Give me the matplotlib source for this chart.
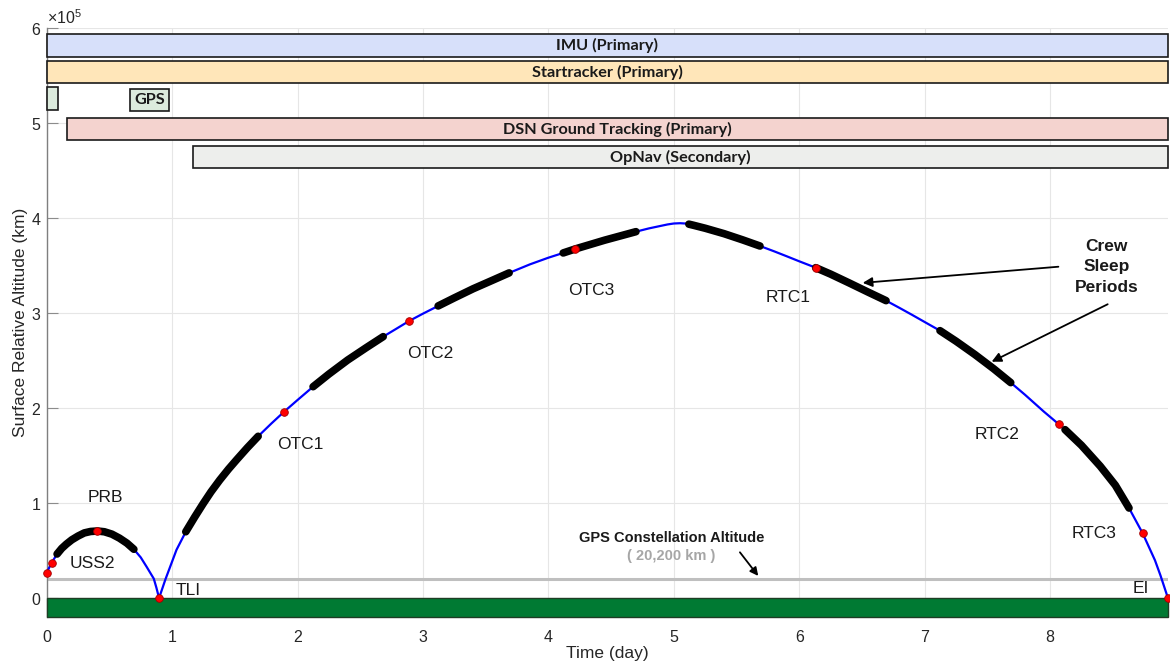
import matplotlib
matplotlib.use("Agg")
import matplotlib.pyplot as plt
import numpy as np
from matplotlib.ticker import ScalarFormatter

plt.rcParams["font.family"] = ["Liberation Sans", "DejaVu Sans"]
plt.rcParams["mathtext.fontset"] = "custom"
plt.rcParams["mathtext.rm"] = "Liberation Sans"
plt.rcParams["mathtext.it"] = "Liberation Sans:italic"

# Trajectory: mission elapsed time (day) vs. altitude above Earth's surface (km)
mission_day = [0.000, 0.040, 0.083, 0.120, 0.157, 0.200, 0.250, 0.300, 0.350,
               0.405, 0.460, 0.520, 0.580, 0.640, 0.695, 0.750, 0.796, 0.854,
               0.875, 0.896, 0.947, 1.035, 1.109, 1.180, 1.247, 1.310, 1.380,
               1.450, 1.513, 1.600, 1.686, 1.790, 1.893, 2.000, 2.124, 2.250,
               2.400, 2.550, 2.683, 2.790, 2.890, 3.000, 3.121, 3.250, 3.400,
               3.550, 3.687, 3.853, 4.000, 4.118, 4.214, 4.450, 4.698, 4.800,
               4.889, 4.950, 5.000, 5.050, 5.090, 5.120, 5.155, 5.250, 5.400,
               5.550, 5.687, 5.800, 5.900, 6.000, 6.131, 6.250, 6.400, 6.550,
               6.692, 6.800, 6.900, 7.000, 7.122, 7.250, 7.400, 7.550, 7.686,
               7.800, 7.950, 8.071, 8.119, 8.250, 8.400, 8.520, 8.629, 8.738,
               8.836, 8.880, 8.940]
altitude_km = [27000, 37500, 46600, 52500, 57000, 61500, 65500, 68800, 70300,
               70800, 70000, 67500, 63300, 58000, 51600, 43000, 33300, 20600,
               11000, 200, 20000, 51000, 70000, 85500, 99500, 112000, 124500,
               136000, 145600, 158500, 170500, 183800, 196400, 208700, 222700, 236000,
               250800, 264000, 275400, 283900, 291900, 299600, 307700, 316200, 325800,
               334500, 342500, 351500, 358500, 363500, 367700, 377000, 385900, 389300,
               391800, 393500, 394500, 394800, 394500, 393800, 392700, 389500, 383800,
               377200, 370800, 365200, 360000, 354700, 348000, 341200, 331800, 322200,
               313300, 305600, 298300, 290800, 281700, 270600, 256600, 241600, 227000,
               214200, 196500, 183000, 177500, 161000, 139000, 119000, 95000, 68400,
               40000, 24000, 0]

# Crew sleep periods (start day, end day)
sleep_start = [0.083, 1.109, 2.124, 3.121, 4.118, 5.120, 6.131, 7.122, 8.119]
sleep_end = [0.695, 1.686, 2.683, 3.687, 4.698, 5.687, 6.692, 7.686, 8.629]

# Mission events
event_day = [0.000, 0.040, 0.405, 0.896, 1.893, 2.890, 4.214, 6.131, 8.071, 8.738, 8.940]
event_alt = [27000, 37500, 70800, 200, 196400, 291900, 367700, 348000, 183000, 68400, 0]

event_names = ["PRB", "USS2", "TLI", "OTC1", "OTC2", "OTC3", "RTC1", "RTC2", "RTC3", "EI"]
event_label_day = [0.328, 0.184, 1.027, 1.837, 2.877, 4.158, 5.732, 7.401, 8.172, 8.655]
event_label_alt = [106600, 36800, 8000, 161400, 257900, 323500, 316800, 172900, 68400, 10500]

# Navigation sensor coverage windows
sensor_names = ["IMU (Primary)", "Startracker (Primary)", "GPS",
                "DSN Ground Tracking (Primary)", "OpNav (Secondary)"]
sensor_start = [0.0, 0.0, 0.0, 0.163, 1.167]
sensor_end = [8.94, 8.94, 0.09, 8.94, 8.94]
sensor_colors = ["#D7E0FA", "#FFE6B9", "#DCEBDD", "#F4D3CF", "#EDEEEC"]
sensor_rows = [582000, 554000, 526000, 494000, 464500]

gps_altitude_km = 20200
x_limits = (0, 8.94)
y_limits = (-20000, 600000)

fig = plt.figure(figsize=(11.7, 6.7), dpi=100)
ax = fig.add_axes([0.0399, 0.0787, 0.9584, 0.8791])
ax.set_xlim(*x_limits)
ax.set_ylim(*y_limits)

# grid and axes styling
ax.set_axisbelow(True)
ax.grid(True, color="#E6E6E6", lw=0.8)
for side in ["top", "right", "bottom"]:
    ax.spines[side].set_visible(False)
ax.spines["left"].set_color("#7F7F7F")
ax.spines["left"].set_linewidth(1.0)
ax.set_xticks(range(0, 9))
ax.set_yticks(np.arange(0, 600001, 100000))
ax.tick_params(axis="y", direction="in", length=8, color="#8C8C8C",
               labelsize=11.5, labelcolor="#262626", pad=4)
ax.tick_params(axis="x", length=0, labelsize=11.5, labelcolor="#262626", pad=9)
fmt = ScalarFormatter(useMathText=True)
fmt.set_powerlimits((5, 5))
ax.yaxis.set_major_formatter(fmt)
ax.yaxis.get_offset_text().set_fontsize(11.5)
ax.yaxis.get_offset_text().set_color("#262626")

ax.set_xlabel("Time (day)", fontsize=12.5, color="#262626", labelpad=1)
ax.set_ylabel("Surface Relative Altitude (km)", fontsize=12.5, color="#262626", labelpad=2)

# Earth surface band
ax.barh(y_limits[0] / 2, x_limits[1] - x_limits[0], left=x_limits[0],
        height=-y_limits[0], color="#007A33", edgecolor="#1E3D24", lw=1.0,
        zorder=3, clip_on=False)

# GPS constellation altitude
ax.axhline(gps_altitude_km, color="#BFBFBF", lw=2.2, zorder=2)
ax.text(4.98, 63000, "GPS Constellation Altitude", ha="center", va="center",
        fontsize=10.5, fontweight="bold", color="#1A1A1A")
ax.text(4.98, 44000, "( 20,200 km )", ha="center", va="center",
        fontsize=10.5, fontweight="bold", color="#A6A6A6")
ax.annotate("", xy=(5.673, 23500), xytext=(5.527, 48400),
            arrowprops=dict(arrowstyle="-|>", color="black", lw=1.3,
                            mutation_scale=12, shrinkA=0, shrinkB=0))

# trajectory
days = np.array(mission_day)
alts = np.array(altitude_km)
ax.plot(days, alts, color="#0000FF", lw=1.6, zorder=4, solid_joinstyle="round")
for s, e in zip(sleep_start, sleep_end):
    m = (days >= s - 1e-9) & (days <= e + 1e-9)
    ax.plot(days[m], alts[m], color="black", lw=5.5, solid_capstyle="round",
            solid_joinstyle="round", zorder=5)
ax.plot(event_day, event_alt, "o", ms=5.5, mfc="#FF0000", mec="#A00000",
        mew=0.6, zorder=6, clip_on=False)

for name, tx, ty in zip(event_names, event_label_day, event_label_alt):
    ax.text(tx, ty, name, ha="left", va="center", fontsize=12.5, color="#1A1A1A")

# crew sleep annotation
ax.text(8.451, 349000, "Crew\nSleep\nPeriods", ha="center", va="center",
        fontsize=12.5, fontweight="bold", color="#1A1A1A", linespacing=1.45)
ax.annotate("", xy=(6.506, 332000), xytext=(8.066, 349000),
            arrowprops=dict(arrowstyle="-|>", color="black", lw=1.3,
                            mutation_scale=14, shrinkA=0, shrinkB=0))
ax.annotate("", xy=(7.534, 249000), xytext=(8.459, 309500),
            arrowprops=dict(arrowstyle="-|>", color="black", lw=1.3,
                            mutation_scale=14, shrinkA=0, shrinkB=0))

# sensor coverage bars
bar_height = 24000
for name, s, e, c, row in zip(sensor_names, sensor_start, sensor_end,
                              sensor_colors, sensor_rows):
    ax.barh(row, e - s, left=s, height=bar_height, color=c,
            edgecolor="#1A1A1A", lw=1.2, zorder=3, clip_on=False)
    if name == "GPS":
        ax.text(0.82, row - 1500, name, ha="center", va="center",
                fontsize=11.7, fontweight="bold", family=["Lato", "DejaVu Sans"],
                color="#1A1A1A", zorder=4,
                bbox=dict(boxstyle="square,pad=0.25", fc=c, ec="#1A1A1A", lw=1.2))
    else:
        ax.text((s + e) / 2, row, name, ha="center", va="center",
                fontsize=11.7, fontweight="bold", family=["Lato", "DejaVu Sans"],
                color="#1A1A1A", zorder=4)

fig.savefig("out.png", dpi=100)
